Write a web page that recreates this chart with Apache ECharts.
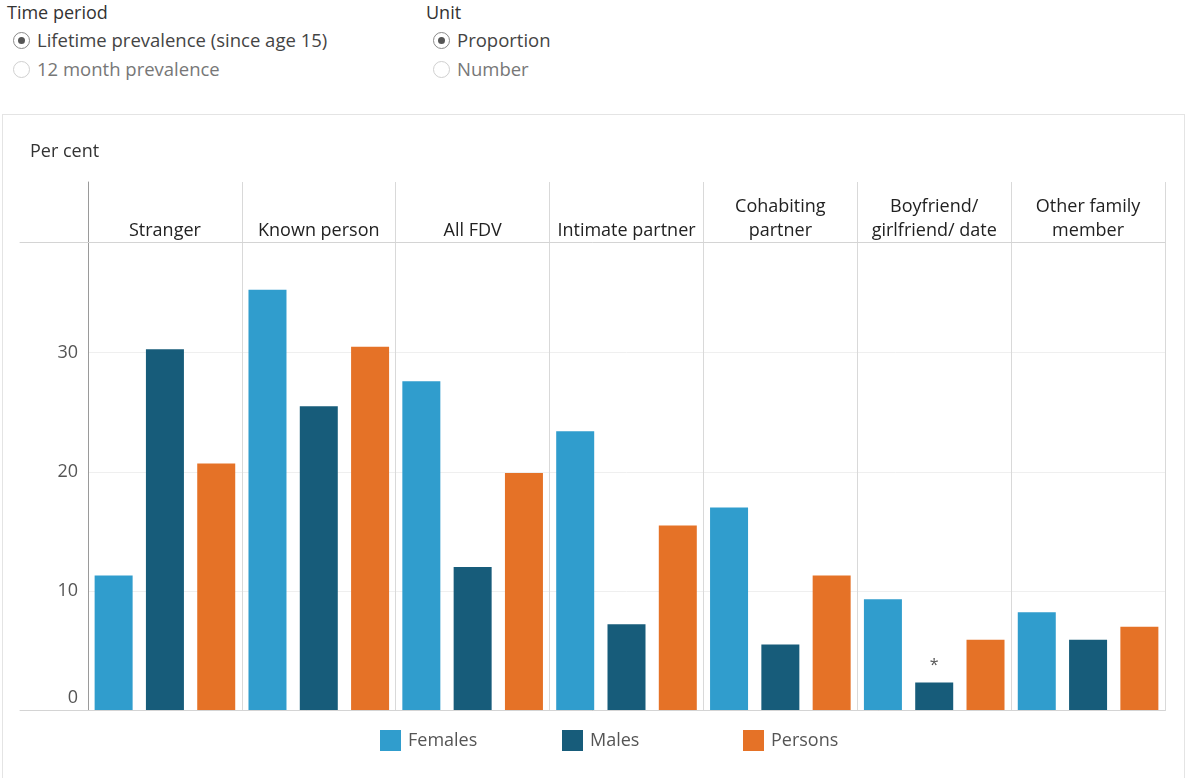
<!DOCTYPE html>
<html>
<head>
<meta charset="utf-8">
<script src="https://cdn.jsdelivr.net/npm/echarts@6/dist/echarts.min.js"></script>
<style>
  html, body { margin: 0; padding: 0; background: #fff; }
  body { width: 1187px; height: 778px; position: relative; overflow: hidden; font-family: "Open Sans", "Noto Sans", sans-serif; }
  #box { position: absolute; left: 2px; top: 114px; width: 1183px; height: 670px; border: 1px solid #e4e4e4; box-sizing: border-box; }
  #chart { position: absolute; left: 0; top: 0; width: 1187px; height: 778px; }
  .ctl { position: absolute; font-size: 18px; color: #333; white-space: nowrap; }
  .hdr { line-height: 24px; }
  .opt { line-height: 24px; display: flex; align-items: center; color: #444; font-size: 18.5px; }
  .radio { width: 17px; height: 17px; border-radius: 50%; border: 1px solid #8a8a8a; box-sizing: border-box; margin-right: 7px; position: relative; display: inline-block; }
  .radio.on::after { content: ""; position: absolute; left: 4px; top: 4px; width: 7px; height: 7px; border-radius: 50%; background: #555; }
  .radio.off { border-color: #d0d0d0; }
  .muted { color: #777; }
</style>
</head>
<body>
<div id="box"></div>
<div class="ctl hdr" style="left:7px; top:0px;">Time period</div>
<div class="ctl opt" style="left:13px; top:28px;"><span class="radio on"></span>Lifetime prevalence (since age 15)</div>
<div class="ctl opt muted" style="left:13px; top:57px;"><span class="radio off"></span>12 month prevalence</div>
<div class="ctl hdr" style="left:426px; top:0px;">Unit</div>
<div class="ctl opt" style="left:433px; top:28px;"><span class="radio on"></span>Proportion</div>
<div class="ctl opt muted" style="left:433px; top:57px;"><span class="radio off"></span>Number</div>
<div id="chart"></div>
<script>
const categories = ['Stranger', 'Known person', 'All FDV', 'Intimate partner', 'Cohabiting\npartner', 'Boyfriend/\ngirlfriend/ date', 'Other family\nmember'];
const females = [11.3, 35.3, 27.6, 23.4, 17.0, 9.3, 8.2];
const males = [30.3, 25.5, 12.0, 7.2, 5.5, 2.3, 5.9];
const persons = [20.7, 30.5, 19.9, 15.5, 11.3, 5.9, 7.0];
const flagged = { series: 'Males', index: 5, mark: '*' };
const seriesNames = ['Females', 'Males', 'Persons'];
const colors = ['#309dcd', '#175c7a', '#e57227'];
const yTitle = 'Per cent';

const FONT = '"Open Sans", "Noto Sans", sans-serif';
const chart = echarts.init(document.getElementById('chart'), null, { renderer: 'canvas' });

function withFlag(name, arr) {
  return arr.map((v, i) => {
    if (name === flagged.series && i === flagged.index) {
      return { value: v, label: { show: true, position: 'top', distance: 9, formatter: flagged.mark, color: '#555', fontSize: 16, fontFamily: FONT } };
    }
    return v;
  });
}

const seriesData = [females, males, persons];

const option = {
  animation: false,
  title: { text: yTitle, left: 25, top: 138, textStyle: { fontSize: 18, fontWeight: 'normal', color: '#333', fontFamily: FONT } },
  legend: seriesNames.map((n, i) => ({
    data: [n], left: [375, 557, 738][i], top: 725, icon: 'rect', itemWidth: 21, itemHeight: 21, itemGap: 0,
    textStyle: { fontSize: 18, color: '#555', fontFamily: FONT, padding: [0, 0, 0, 2] },
    selectedMode: false
  })),
  grid: [
    { left: 88, right: 22, top: 242, bottom: 68 },   // plot
    { left: 88, right: 22, top: 182, bottom: 536 },  // header
    { left: 20, right: 22, top: 242, bottom: 68 }    // frame lines
  ],
  xAxis: [
    { type: 'category', gridIndex: 0, data: categories, axisLabel: { show: false }, axisTick: { show: false },
      axisLine: { lineStyle: { color: '#a8a8a8', width: 1 } }, splitLine: { show: true, lineStyle: { color: '#d9d9d9' } } },
    { type: 'category', gridIndex: 1, data: categories, axisTick: { show: false }, axisLine: { show: false },
      splitLine: { show: true, lineStyle: { color: '#d9d9d9' } },
      axisLabel: { inside: true, margin: -1, fontSize: 18, color: '#222', lineHeight: 24, fontFamily: FONT, interval: 0 } },
    { type: 'value', gridIndex: 2, position: 'bottom', axisLabel: { show: false }, axisTick: { show: false }, splitLine: { show: false },
      axisLine: { show: true, lineStyle: { color: '#d4d4d4' } } },
    { type: 'value', gridIndex: 2, position: 'top', axisLabel: { show: false }, axisTick: { show: false }, splitLine: { show: false },
      axisLine: { show: true, lineStyle: { color: '#d4d4d4' } } }
  ],
  yAxis: [
    { type: 'value', gridIndex: 0, min: 0, max: 39.3, interval: 10,
      axisLine: { show: true, lineStyle: { color: '#9a9a9a' } }, axisTick: { show: false },
      axisLabel: { showMaxLabel: false, margin: 10, fontSize: 18, color: '#555', fontFamily: FONT,
        formatter: v => v === 0 ? '{z|0}' : String(v),
        rich: { z: { fontSize: 18, color: '#555', fontFamily: FONT, padding: [0, 0, 24, 0] } } },
      splitLine: { show: true, lineStyle: { color: '#efefef' } } },
    { type: 'value', gridIndex: 1, axisLine: { show: true, lineStyle: { color: '#9a9a9a' } }, axisTick: { show: false },
      axisLabel: { show: false }, splitLine: { show: false } },
    { type: 'value', gridIndex: 2, show: false }
  ],
  series: seriesNames.map((n, i) => ({
    name: n, type: 'bar', xAxisIndex: 0, yAxisIndex: 0, data: withFlag(n, seriesData[i]),
    barWidth: 38, barGap: '35%', itemStyle: { color: colors[i] }
  }))
};
chart.setOption(option);
</script>
</body>
</html>
